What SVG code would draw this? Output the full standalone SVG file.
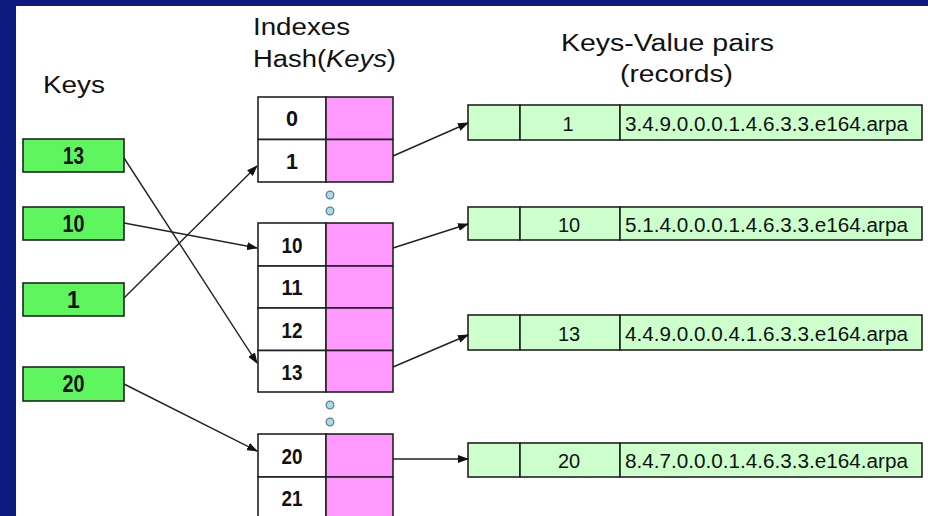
<svg xmlns="http://www.w3.org/2000/svg" width="928" height="516" viewBox="0 0 928 516">
<style>
  .hdr{font-family:"Liberation Sans",Arial,sans-serif;font-size:23px;fill:#111}
  .key rect{fill:#5ef55e;stroke:#222;stroke-width:1.6}
  .kt{font-family:"Liberation Sans",Arial,sans-serif;font-size:23px;font-weight:bold;fill:#111;text-anchor:middle}
  .idx{fill:#fff;stroke:#222;stroke-width:1.6}
  .mag{fill:#ff99ff;stroke:#222;stroke-width:1.6}
  .it{font-family:"Liberation Sans",Arial,sans-serif;font-size:21.5px;font-weight:bold;fill:#111;text-anchor:middle}
  .rec rect{fill:#ccffcc;stroke:#222;stroke-width:1.6}
  .rn{font-family:"Liberation Sans",Arial,sans-serif;font-size:20px;fill:#111;text-anchor:middle}
  .rv{font-family:"Liberation Sans",Arial,sans-serif;font-size:20px;fill:#111}
  .dot{fill:#a8dce8;stroke:#5f7d8c;stroke-width:1.3}
  .conn line{stroke:#222;stroke-width:1.4;marker-end:url(#ah)}
</style>
<defs>
  <marker id="ah" markerWidth="11" markerHeight="8" refX="10" refY="4" orient="auto" markerUnits="userSpaceOnUse">
    <path d="M0,0 L11,4 L0,8 Z" fill="#111"/>
  </marker>
</defs>
<rect width="928" height="516" fill="#ffffff"/>
<rect x="0" y="0" width="928" height="6" fill="#0d1a7e"/>
<rect x="0" y="0" width="16" height="516" fill="#0d1a7e"/>

<g id="headers">
  <text class="hdr" x="43" y="93" textLength="62" lengthAdjust="spacingAndGlyphs">Keys</text>
  <text class="hdr" x="253" y="35" textLength="97" lengthAdjust="spacingAndGlyphs">Indexes</text>
  <text class="hdr" x="253" y="67" textLength="143" lengthAdjust="spacingAndGlyphs">Hash(<tspan font-style="italic">Keys</tspan>)</text>
  <text class="hdr" x="561" y="51" textLength="213" lengthAdjust="spacingAndGlyphs">Keys-Value pairs</text>
  <text class="hdr" x="620" y="82" textLength="113" lengthAdjust="spacingAndGlyphs">(records)</text>
</g>

<g id="key-13" class="key"><rect x="23" y="139" width="101" height="33"/><text class="kt" x="73.5" y="164" textLength="21" lengthAdjust="spacingAndGlyphs">13</text></g>
<g id="key-10" class="key"><rect x="23" y="207" width="101" height="33"/><text class="kt" x="73.5" y="232" textLength="22" lengthAdjust="spacingAndGlyphs">10</text></g>
<g id="key-1" class="key"><rect x="23" y="283" width="101" height="33"/><text class="kt" x="73.5" y="308">1</text></g>
<g id="key-20" class="key"><rect x="23" y="367" width="101" height="34"/><text class="kt" x="73.5" y="392" textLength="22" lengthAdjust="spacingAndGlyphs">20</text></g>

<g id="index-table-1">
  <rect class="idx" x="258" y="97" width="68" height="42.5"/><rect class="mag" x="326" y="97" width="67" height="42.5"/>
  <text class="it" x="292" y="126">0</text>
  <rect class="idx" x="258" y="139.5" width="68" height="42.5"/><rect class="mag" x="326" y="139.5" width="67" height="42.5"/>
  <text class="it" x="292" y="168.5">1</text>
</g>
<g id="dots-1"><circle class="dot" cx="330" cy="195" r="3.8"/><circle class="dot" cx="330" cy="211" r="3.8"/></g>

<g id="index-table-2">
  <rect class="idx" x="258" y="223" width="68" height="43"/><rect class="mag" x="326" y="223" width="67" height="43"/>
  <text class="it" x="292" y="252.5" textLength="21" lengthAdjust="spacingAndGlyphs">10</text>
  <rect class="idx" x="258" y="266" width="68" height="42"/><rect class="mag" x="326" y="266" width="67" height="42"/>
  <text class="it" x="292" y="295" textLength="21" lengthAdjust="spacingAndGlyphs">11</text>
  <rect class="idx" x="258" y="308" width="68" height="42.5"/><rect class="mag" x="326" y="308" width="67" height="42.5"/>
  <text class="it" x="292" y="337.5" textLength="21" lengthAdjust="spacingAndGlyphs">12</text>
  <rect class="idx" x="258" y="350.5" width="68" height="41.5"/><rect class="mag" x="326" y="350.5" width="67" height="41.5"/>
  <text class="it" x="292" y="379.5" textLength="21" lengthAdjust="spacingAndGlyphs">13</text>
</g>
<g id="dots-2"><circle class="dot" cx="330" cy="405" r="3.8"/><circle class="dot" cx="330" cy="422" r="3.8"/></g>

<g id="index-table-3">
  <rect class="idx" x="258" y="434" width="68" height="43"/><rect class="mag" x="326" y="434" width="67" height="43"/>
  <text class="it" x="292" y="463.5" textLength="21" lengthAdjust="spacingAndGlyphs">20</text>
  <rect class="idx" x="258" y="477" width="68" height="43"/><rect class="mag" x="326" y="477" width="67" height="43"/>
  <text class="it" x="292" y="506" textLength="21" lengthAdjust="spacingAndGlyphs">21</text>
</g>

<g id="record-1" class="rec">
  <rect x="468" y="105" width="52" height="35"/><rect x="520" y="105" width="100" height="35"/><rect x="620" y="105" width="302" height="35"/>
  <text class="rn" x="568" y="131">1</text>
  <text class="rv" x="625" y="131" textLength="283" lengthAdjust="spacingAndGlyphs">3.4.9.0.0.0.1.4.6.3.3.e164.arpa</text>
</g>
<g id="record-2" class="rec">
  <rect x="468" y="207" width="52" height="33"/><rect x="520" y="207" width="100" height="33"/><rect x="620" y="207" width="302" height="33"/>
  <text class="rn" x="569" y="232">10</text>
  <text class="rv" x="625" y="232" textLength="283" lengthAdjust="spacingAndGlyphs">5.1.4.0.0.0.1.4.6.3.3.e164.arpa</text>
</g>
<g id="record-3" class="rec">
  <rect x="468" y="315" width="52" height="35"/><rect x="520" y="315" width="100" height="35"/><rect x="620" y="315" width="302" height="35"/>
  <text class="rn" x="569" y="341">13</text>
  <text class="rv" x="625" y="341" textLength="283" lengthAdjust="spacingAndGlyphs">4.4.9.0.0.0.4.1.6.3.3.e164.arpa</text>
</g>
<g id="record-4" class="rec">
  <rect x="468" y="443" width="52" height="34"/><rect x="520" y="443" width="100" height="34"/><rect x="620" y="443" width="302" height="34"/>
  <text class="rn" x="569" y="468">20</text>
  <text class="rv" x="625" y="468" textLength="283" lengthAdjust="spacingAndGlyphs">8.4.7.0.0.0.1.4.6.3.3.e164.arpa</text>
</g>

<g id="connectors" class="conn">
  <line x1="124" y1="158" x2="257" y2="363"/>
  <line x1="124" y1="223" x2="257" y2="248"/>
  <line x1="124" y1="298" x2="257" y2="166"/>
  <line x1="124" y1="384" x2="257" y2="451"/>
  <line x1="393" y1="156" x2="468" y2="123"/>
  <line x1="393" y1="248" x2="468" y2="224"/>
  <line x1="393" y1="367" x2="468" y2="335"/>
  <line x1="393" y1="459" x2="468" y2="459"/>
</g>
</svg>
